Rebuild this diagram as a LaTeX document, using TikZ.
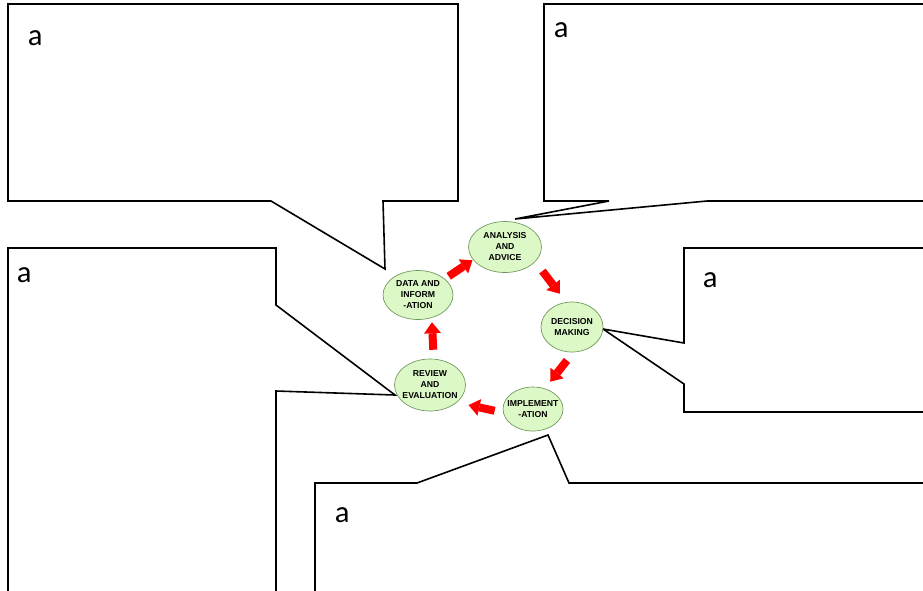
\documentclass[tikz,border=0pt]{standalone}
\usepackage{fontspec}
\setmainfont{Liberation Sans}
\newfontfamily\notefont{Carlito}
\usetikzlibrary{shapes.geometric,arrows.meta}

\definecolor{stagefill}{RGB}{220,248,198}
\definecolor{stageline}{RGB}{110,150,90}

\begin{document}
\begin{tikzpicture}[x=0.75pt,y=0.75pt,yscale=-1,xscale=1,
  callout/.style={draw=black,line width=1.2pt,line join=miter},
  stage/.style={ellipse,draw=stageline,fill=stagefill,line width=0.5pt,inner xsep=-4pt,inner ysep=0pt,align=center,font=\bfseries\fontsize{6.5}{8.25}\selectfont},
  flow/.style={draw=red,line width=6pt,-{Triangle[length=8.25pt,width=12.75pt,line width=0pt]}},
  note/.style={anchor=base west,inner sep=0pt,font=\notefont\fontsize{23}{27}\selectfont}]
\clip (0,0) rectangle (923,590);

%Callouts
\draw[callout] (8,4) -- (458,4) -- (458,201) -- (383,201) -- (385,269) -- (271,201) -- (8,201) -- cycle;
\draw[callout] (544,4) -- (940,4) -- (940,201) -- (707,201) -- (515,219) -- (609,201) -- (544,201) -- cycle;
\draw[callout] (684,248) -- (940,248) -- (940,412) -- (684,412) -- (684,384) -- (603,329) -- (684,343) -- cycle;
\draw[callout] (8,248) -- (276,248) -- (276,305) -- (395,395) -- (276,391) -- (276,600) -- (8,600) -- cycle;
\draw[callout] (315,483) -- (417,483) -- (548,435) -- (569,483) -- (940,483) -- (940,600) -- (315,600) -- cycle;

% Text Node
\node[note] (datanote) at (27.5,45) {a};
\node[note] (analysisnote) at (553.5,37) {a};
\node[note] (decisionnote) at (702.5,287) {a};
\node[note] (reviewnote) at (16.5,282) {a};
\node[note] (implementnote) at (334.5,522) {a};

%Cycle stages
\node[stage,minimum width=54.75pt,minimum height=38.25pt] (analysis) at (505,247) {ANALYSIS\\AND\\ADVICE};
\node[stage,minimum width=52.5pt,minimum height=36.75pt] (data) at (418,295) {DATA AND\\INFORM\\-ATION};
\node[stage,minimum width=46.5pt,minimum height=37.5pt] (decision) at (572,327) {DECISION\\MAKING};
\node[stage,minimum width=53.25pt,minimum height=39pt] (review) at (430,385) {REVIEW\\AND\\EVALUATION};
\node[stage,minimum width=45pt,minimum height=33pt] (implement) at (533,409) {IMPLEMENT\\-ATION};

%Block arrows
\draw[flow,shorten <=3.5pt,shorten >=0.5pt] (data.31) -- (analysis.202);
\draw[flow,shorten <=8.8pt,shorten >=8pt] (analysis.-26) -- (decision.103);
\draw[flow,shorten <=7.7pt,shorten >=6.5pt] (decision.-87) -- (implement.60);
\draw[flow,shorten <=6.5pt,shorten >=9pt] (implement.187) -- (review.-33);
\draw[flow,shorten <=6.8pt,shorten >=3.3pt] (review.82) -- (data.-59);

\end{tikzpicture}
\end{document}
